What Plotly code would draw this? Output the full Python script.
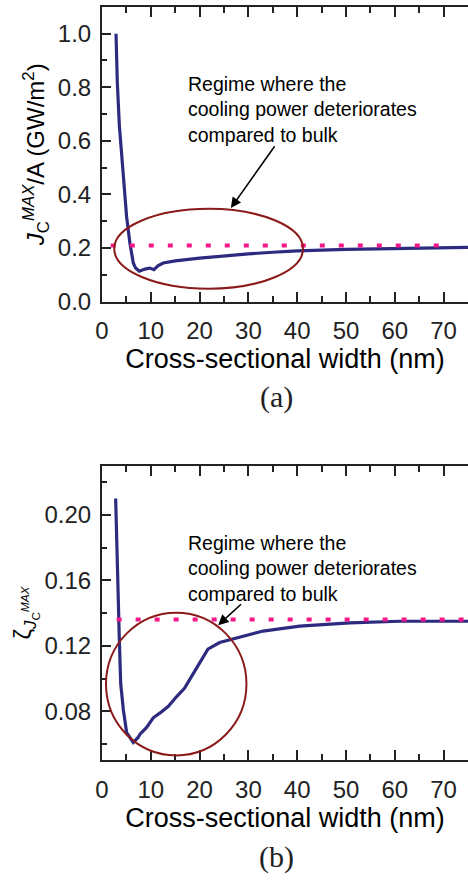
import plotly.graph_objects as go

# ---------------- data ----------------
width_a = [2.87, 3.14, 3.55, 4.03, 4.57, 5.05, 5.73, 6.41, 6.89, 7.64, 8.8, 9.82, 10.64,
           11.53, 12.55, 15, 20, 25, 30, 35, 40, 50, 60, 75]
jc_a = [1.0, 0.818, 0.659, 0.536, 0.414, 0.315, 0.217, 0.144, 0.125, 0.113, 0.121, 0.125,
        0.119, 0.134, 0.144, 0.152, 0.162, 0.171, 0.178, 0.184, 0.189, 0.195, 0.198, 0.202]
bulk_a_x = [1.8, 69.5]
bulk_a_y = [0.209, 0.209]

width_b = [2.8, 3.2, 3.54, 3.83, 4.37, 5.05, 6.41, 7.4, 7.78, 9.1, 10.5, 11.9, 13.6, 15.3,
           16.9, 18.7, 21.7, 24.1, 28.2, 33, 40.5, 50.8, 61, 75]
zeta_b = [0.210, 0.157, 0.125, 0.097, 0.081, 0.067, 0.061, 0.064, 0.066, 0.070, 0.076,
          0.079, 0.083, 0.089, 0.094, 0.103, 0.118, 0.122, 0.125, 0.129, 0.132, 0.134,
          0.135, 0.135]
bulk_b_x = [3.0, 75]
bulk_b_y = [0.136, 0.136]

x_range = [0, 75]
ya_range = [0, 1.1]
yb_range = [0.05, 0.23]

note_text = "Regime where the<br>cooling power deteriorates<br>compared to bulk"
ellipse_a = dict(x0=2.5, x1=41.2, y0=0.048, y1=0.346)
ellipse_b = dict(x0=0.82, x1=29.6, y0=0.053, y1=0.1402)
arrow_a = dict(head=(26.4, 0.349), tail=(35.6, 0.585))
arrow_b = dict(head=(23.8, 0.1326), tail=(28.8, 0.1462))

# ---------------- styles ----------------
BLUE = "#2c2b80"
PINK = "#f5178a"
RED = "#8b1a1a"
AXC = "#222222"
FONT = "Liberation Sans"

fig = go.Figure()
fig.add_trace(go.Scatter(x=width_a, y=jc_a, mode="lines", line=dict(color=BLUE, width=3.2),
                         xaxis="x", yaxis="y", showlegend=False))
fig.add_trace(go.Scatter(x=bulk_a_x, y=bulk_a_y, mode="lines",
                         line=dict(color=PINK, width=4, dash="5px,14px"),
                         xaxis="x", yaxis="y", showlegend=False))
fig.add_trace(go.Scatter(x=width_b, y=zeta_b, mode="lines", line=dict(color=BLUE, width=3.2),
                         xaxis="x2", yaxis="y2", showlegend=False))
fig.add_trace(go.Scatter(x=bulk_b_x, y=bulk_b_y, mode="lines",
                         line=dict(color=PINK, width=4, dash="5px,14px"),
                         xaxis="x2", yaxis="y2", showlegend=False))

xcommon = dict(range=x_range, tick0=0, dtick=10, ticks="inside", ticklen=10, tickwidth=2,
               tickcolor=AXC, showline=True, linewidth=2, linecolor=AXC, mirror="ticks",
               showgrid=False, zeroline=False,
               minor=dict(dtick=5, ticks="inside", ticklen=6, tickwidth=2, tickcolor=AXC,
                          showgrid=False),
               tickfont=dict(family=FONT, size=24, color=AXC), ticklabelstandoff=7)
ycommon = dict(ticks="inside", ticklen=9, tickwidth=2, tickcolor=AXC, showline=True,
               linewidth=2, linecolor=AXC, mirror=False, showgrid=False, zeroline=False,
               tickfont=dict(family=FONT, size=24, color=AXC), ticklabelstandoff=4)

fig.update_layout(
    width=468, height=886,
    margin=dict(l=102, r=0, t=0, b=0),
    paper_bgcolor="white", plot_bgcolor="white",
    xaxis=dict(**xcommon, domain=[0, 1], anchor="y",
               title=dict(text="Cross-sectional width (nm)",
                          font=dict(family=FONT, size=27, color="black"), standoff=0)),
    yaxis=dict(**ycommon, range=ya_range, domain=[0.6546, 0.9921], anchor="x",
               tick0=0, dtick=0.2, tickformat=".1f",
               minor=dict(dtick=0.1, ticks="inside", ticklen=5, tickwidth=2, tickcolor=AXC,
                          showgrid=False),
               title=dict(text="<i>J</i><sub>C</sub><sup><i>MAX</i></sup>/A (GW/m<sup>2</sup>)",
                          font=dict(family=FONT, size=24, color="black"), standoff=6)),
    xaxis2=dict(**xcommon, domain=[0, 1], anchor="y2",
                title=dict(text="Cross-sectional width (nm)",
                           font=dict(family=FONT, size=27, color="black"), standoff=0)),
    yaxis2=dict(**ycommon, range=yb_range, domain=[0.1290, 0.4665], anchor="x2",
                tick0=0.04, dtick=0.04, tickformat=".2f",
                minor=dict(dtick=0.02, ticks="inside", ticklen=5, tickwidth=2, tickcolor=AXC,
                           showgrid=False),
                title=dict(text="ζ<sub><i>J</i><sub>C</sub><sup><i>MAX</i></sup></sub>",
                           font=dict(family=FONT, size=24, color="black"), standoff=6)),
    yaxis3=dict(overlaying="y", anchor="x", side="right", range=ya_range, tick0=0, dtick=0.2,
                ticks="inside", ticklen=9, tickwidth=2, tickcolor=AXC, showline=False,
                showticklabels=False, showgrid=False, zeroline=False,
                minor=dict(dtick=0.1, ticks="inside", ticklen=5, tickwidth=2, tickcolor=AXC)),
    yaxis4=dict(overlaying="y2", anchor="x2", side="right", range=yb_range, tick0=0.04,
                dtick=0.04, ticks="inside", ticklen=9, tickwidth=2, tickcolor=AXC,
                showline=False, showticklabels=False, showgrid=False, zeroline=False,
                minor=dict(dtick=0.02, ticks="inside", ticklen=5, tickwidth=2, tickcolor=AXC)),
)

fig.add_shape(type="circle", xref="x", yref="y", line=dict(color=RED, width=2), **ellipse_a)
fig.add_shape(type="circle", xref="x2", yref="y2", line=dict(color=RED, width=2), **ellipse_b)

note_font = dict(family=FONT, size=19.5, color="black")
fig.add_annotation(x=0.2295, y=0.8747, xref="paper", yref="paper", text=note_text,
                   showarrow=False, xanchor="left", yanchor="middle", align="left",
                   font=note_font)
fig.add_annotation(x=0.2295, y=0.3488, xref="paper", yref="paper", text=note_text,
                   showarrow=False, xanchor="left", yanchor="middle", align="left",
                   font=note_font)
for ar, xr, yr in [(arrow_a, "x", "y"), (arrow_b, "x2", "y2")]:
    fig.add_annotation(x=ar["head"][0], y=ar["head"][1], ax=ar["tail"][0], ay=ar["tail"][1],
                       xref=xr, yref=yr, axref=xr, ayref=yr, text="", showarrow=True,
                       arrowhead=2, arrowsize=1.3, arrowwidth=1.6, arrowcolor="black",
                       standoff=0)

serif = dict(family="Liberation Serif", size=30, color="#222")
fig.add_annotation(x=0.478, y=0.5451, xref="paper", yref="paper", text="(a)",
                   showarrow=False, xanchor="center", yanchor="middle", font=serif)
fig.add_annotation(x=0.478, y=0.018, xref="paper", yref="paper", text="(b)",
                   showarrow=False, xanchor="center", yanchor="middle", font=serif)

fig.write_html("out.html")
